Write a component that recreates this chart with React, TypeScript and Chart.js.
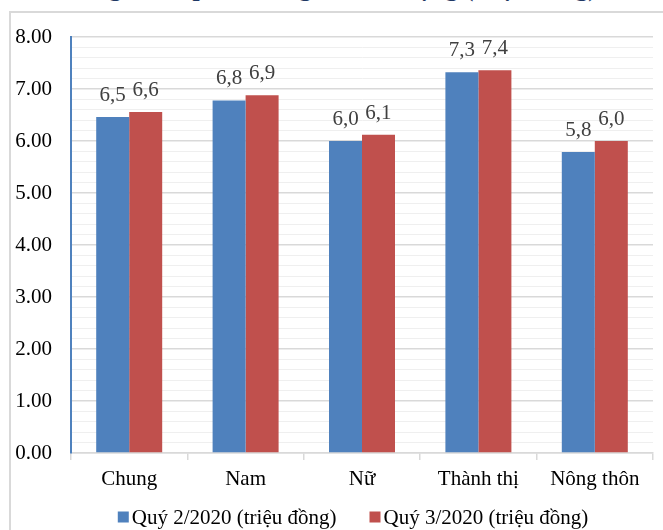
import React, { useEffect, useRef } from "react";
import { Chart, registerables } from "chart.js";

Chart.register(...registerables);

const categories = ["Chung", "Nam", "Nữ", "Thành thị", "Nông thôn"];
const seriesNames = ["Quý 2/2020 (triệu đồng)", "Quý 3/2020 (triệu đồng)"];
const q2Values = [6.46, 6.78, 6.0, 7.32, 5.79];
const q3Values = [6.56, 6.88, 6.12, 7.36, 6.0];
const seriesColors = ["#4F81BD", "#C0504D"];
const yMin = 0;
const yMax = 8;
const yMinorStep = 0.2;

const FONT = '"Liberation Serif", "Times New Roman", serif';
const FS = 21;

const isMajor = (v: number) => Math.abs(v - Math.round(v)) < 1e-6;

const dataLabelPlugin = {
  id: "dataLabels",
  afterDatasetsDraw(chart: any) {
    const ctx = chart.ctx;
    ctx.save();
    ctx.font = `${FS}px ${FONT}`;
    ctx.fillStyle = "#404040";
    ctx.textAlign = "center";
    ctx.textBaseline = "alphabetic";
    chart.data.datasets.forEach((ds: any, di: number) => {
      const meta = chart.getDatasetMeta(di);
      meta.data.forEach((bar: any, i: number) => {
        const v = ds.data[i] as number;
        const txt = v.toFixed(1).replace(".", ",");
        ctx.fillText(txt, bar.x, bar.y - 16);
      });
    });
    ctx.restore();
  },
};

const legendPlugin = {
  id: "customLegend",
  afterDraw(chart: any) {
    const ctx = chart.ctx;
    ctx.save();
    ctx.font = `${FS}px ${FONT}`;
    ctx.textBaseline = "middle";
    ctx.textAlign = "left";
    const box = 11;
    const gap = 3;
    const itemGap = 33;
    const items = chart.data.datasets.map((ds: any) => ({
      text: ds.label as string,
      color: ds.backgroundColor as string,
      w: ctx.measureText(ds.label).width,
    }));
    let total = 0;
    items.forEach((it: any, i: number) => {
      total += box + gap + it.w + (i > 0 ? itemGap : 0);
    });
    let x = 353 - total / 2;
    const y = 517;
    items.forEach((it: any) => {
      ctx.fillStyle = it.color;
      ctx.fillRect(x, y - box / 2, box, box);
      ctx.fillStyle = "#000000";
      ctx.fillText(it.text, x + box + gap, y + 1);
      x += box + gap + it.w + itemGap;
    });
    ctx.restore();
  },
};

export default function App() {
  const canvasRef = useRef<HTMLCanvasElement | null>(null);

  useEffect(() => {
    if (!canvasRef.current) return;
    const chart = new Chart(canvasRef.current, {
      type: "bar",
      data: {
        labels: categories,
        datasets: [
          {
            label: seriesNames[0],
            data: q2Values,
            backgroundColor: seriesColors[0],
            borderWidth: 0,
            barPercentage: 1,
            categoryPercentage: 0.567,
          },
          {
            label: seriesNames[1],
            data: q3Values,
            backgroundColor: seriesColors[1],
            borderWidth: 0,
            barPercentage: 1,
            categoryPercentage: 0.567,
          },
        ],
      },
      options: {
        responsive: false,
        animation: false,
        devicePixelRatio: 1,
        layout: { padding: { top: 37, right: 10, bottom: 0, left: 0 } },
        plugins: {
          legend: { display: false },
          tooltip: { enabled: false },
          title: { display: false },
        },
        scales: {
          x: {
            offset: true,
            grid: {
              offset: true,
              drawOnChartArea: false,
              drawTicks: true,
              tickLength: 7,
              color: "#D9D9D9",
              lineWidth: 1.5,
            },
            border: { display: true, color: "#D9D9D9", width: 1.5 },
            ticks: {
              color: "#000000",
              font: { family: FONT, size: FS },
              padding: 7,
              maxRotation: 0,
              autoSkip: false,
            },
            afterFit(scale: any) {
              scale.height = 77;
              scale.paddingLeft = 0;
              scale.paddingRight = 0;
            },
          },
          y: {
            min: yMin,
            max: yMax,
            grid: {
              drawTicks: false,
              color: (c: any) => (isMajor(c.tick.value) ? "#D9D9D9" : "#EFEFEF"),
              lineWidth: (c: any) => (isMajor(c.tick.value) ? 1.5 : 1),
            },
            border: { display: true, color: "#4F81BD", width: 2 },
            ticks: {
              stepSize: yMinorStep,
              autoSkip: false,
              color: "#000000",
              font: { family: FONT, size: FS },
              padding: 19,
              callback: (v: any) => (isMajor(Number(v)) ? Number(v).toFixed(2) : ""),
            },
            afterFit(scale: any) {
              scale.width = 71;
              scale.paddingTop = 0;
              scale.paddingBottom = 0;
            },
          },
        },
      },
      plugins: [dataLabelPlugin, legendPlugin],
    });
    return () => chart.destroy();
  }, []);

  return (
    <div
      style={{
        position: "fixed",
        left: 0,
        top: 0,
        width: 663,
        height: 530,
        background: "#ffffff",
        overflow: "hidden",
      }}
    >
      <div
        style={{
          position: "absolute",
          left: 0,
          top: 0,
          width: 663,
          height: 11,
          overflow: "hidden",
        }}
      >
        <div
          style={{
            position: "absolute",
            right: 66,
            top: -25,
            whiteSpace: "nowrap",
            fontFamily: FONT,
            fontWeight: "bold",
            fontSize: 26,
            lineHeight: "26px",
            color: "#1F3864",
          }}
        >
          Lương bình quân tháng của lao động (triệu đồng)
        </div>
      </div>
      <div
        style={{
          position: "absolute",
          left: 9,
          top: 11,
          width: 680,
          height: 560,
          border: "2px solid #D9D9D9",
          boxSizing: "border-box",
        }}
      />
      <canvas
        ref={canvasRef}
        width={663}
        height={530}
        style={{ position: "absolute", left: 0, top: 0, width: 663, height: 530 }}
      />
    </div>
  );
}
